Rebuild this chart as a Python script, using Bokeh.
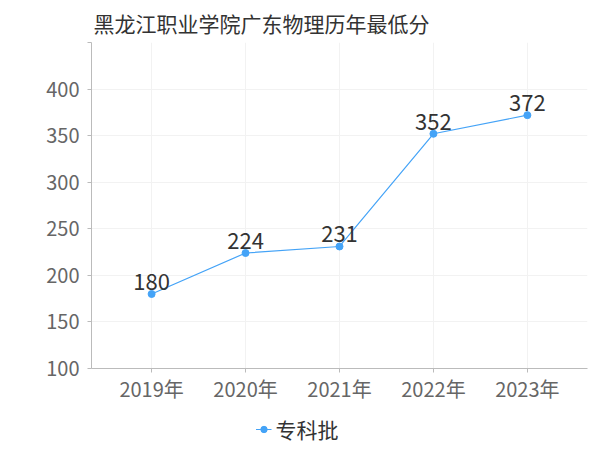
from bokeh.plotting import figure
from bokeh.layouts import column
from bokeh.models import FixedTicker, Legend, LegendItem, ColumnDataSource, Range1d
from bokeh.core.properties import value
from bokeh.embed import file_html
from bokeh.resources import INLINE

years = ["2019年", "2020年", "2021年", "2022年", "2023年"]
scores = [180, 224, 231, 352, 372]
series_name = "专科批"
title_text = "黑龙江职业学院广东物理历年最低分"
y_ticks = [100, 150, 200, 250, 300, 350, 400, 450]

FONT = "Noto Sans CJK SC"
BLUE = "#44a3f7"

xs = list(range(len(years)))
src = ColumnDataSource(dict(x=xs, y=scores, lbl=[str(s) for s in scores]))

p = figure(frame_width=496, frame_height=326, output_backend="svg", toolbar_location=None,
           x_range=Range1d(-0.64, len(years) - 1 + 0.64), y_range=Range1d(100, 450),
           min_border_left=91, min_border_right=4, min_border_top=35, min_border_bottom=0)
p.outline_line_color = None

p.title.text = title_text
p.title.text_font = FONT
p.title.text_font_size = "21px"
p.title.text_font_style = "normal"
p.title.text_color = "#333333"
p.title.offset = 2

line = p.line("x", "y", source=src, line_color=BLUE, line_width=1.2)
pts = p.scatter("x", "y", source=src, size=7, fill_color=BLUE, line_color=BLUE)
p.text("x", "y", text="lbl", source=src, text_font=value(FONT), text_font_size="22px",
       text_color="#333333", text_align="center", text_baseline="bottom", y_offset=-4)

p.xaxis.ticker = FixedTicker(ticks=xs)
p.xaxis.major_label_overrides = {i: y for i, y in enumerate(years)}
p.yaxis.ticker = FixedTicker(ticks=y_ticks)
p.yaxis.major_label_overrides = {450: ""}
for ax in (p.xaxis, p.yaxis):
    ax.axis_line_color = "#bbbbbb"
    ax.major_tick_line_color = "#bbbbbb"
    ax.major_tick_out = 4
    ax.major_tick_in = 0
    ax.minor_tick_line_color = None
    ax.major_label_text_font = FONT
    ax.major_label_text_font_size = "20px"
    ax.major_label_text_color = "#666666"
p.xaxis.major_label_standoff = 1
p.yaxis.major_label_standoff = 8

p.xgrid.ticker = FixedTicker(ticks=xs)
p.ygrid.ticker = FixedTicker(ticks=y_ticks)
p.grid.grid_line_color = "#f2f2f2"

# legend strip below the chart
lg = figure(width=507, height=48, output_backend="svg", toolbar_location=None,
            x_range=Range1d(0, 1), y_range=Range1d(0, 1),
            min_border=0)
lg.axis.visible = False
lg.grid.visible = False
lg.outline_line_color = None
dummy = ColumnDataSource(dict(x=[-10], y=[-10]))
l_line = lg.line("x", "y", source=dummy, line_color=BLUE, line_width=1.2)
l_pts = lg.scatter("x", "y", source=dummy, size=7, fill_color=BLUE, line_color=BLUE)
legend = Legend(items=[LegendItem(label=series_name, renderers=[l_line, l_pts])],
                orientation="horizontal", location="center",
                label_text_font=FONT, label_text_font_size="21px", label_text_color="#333333",
                border_line_color=None, background_fill_alpha=0,
                glyph_width=16, label_standoff=4, padding=0, margin=0)
lg.add_layout(legend, "center")

open("out.html", "w").write(file_html(column(p, lg), INLINE))
